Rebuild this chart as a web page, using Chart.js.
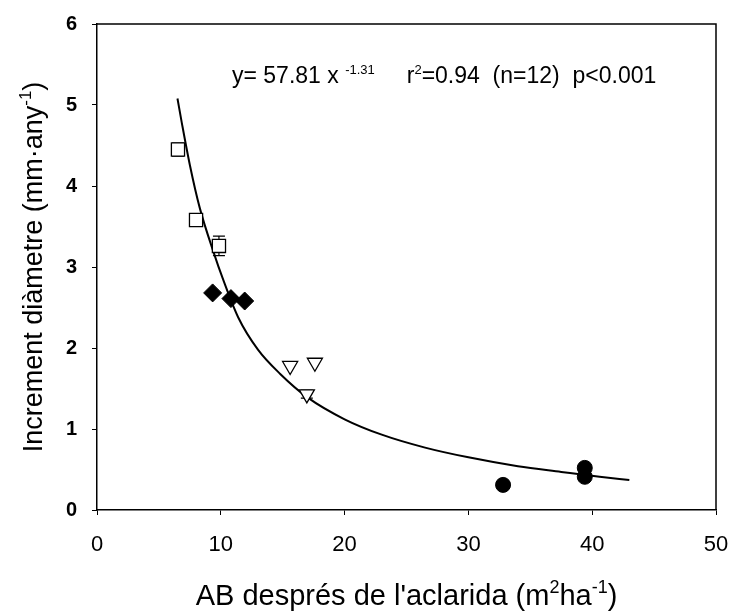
<!DOCTYPE html>
<html>
<head>
<meta charset="utf-8">
<script src="https://cdn.jsdelivr.net/npm/chart.js@4.4.0/dist/chart.umd.min.js"></script>
<style>
  body { margin: 0; background: #fff; }
  #cont { width: 730px; height: 616px; }
</style>
</head>
<body>
<div id="cont"><canvas id="grafica"></canvas></div>
<script>
// valors llegits de la figura
const quadX = [6.54, 8.0, 9.85];
const quadY = [4.45, 3.58, 3.26];
const quadErr = [0.08, 0.05, 0.12];
const rombX = [9.34, 10.82, 11.93];
const rombY = [2.68, 2.61, 2.58];
const triX = [15.6, 17.6, 16.95];
const triY = [1.78, 1.82, 1.43];
const triErr = [0, 0, 0.05];
const cercX = [32.8, 39.4, 39.4];
const cercY = [0.31, 0.52, 0.41];

// corba ajustada (llegida del dibuix)
const ajustX = [6.5, 6.85, 7.5, 8.3, 9.4, 10.2, 11.4, 13, 14.8, 17, 20, 23, 26.5, 30, 34, 37.5, 40.6, 43];
const ajustY = [5.08, 4.78, 4.26, 3.73, 3.19, 2.84, 2.38, 1.98, 1.68, 1.39, 1.12, 0.93, 0.77, 0.65, 0.54, 0.47, 0.41, 0.37];

const ticsX = [0, 10, 20, 30, 40, 50];
const ticsY = [0, 1, 2, 3, 4, 5, 6];

const FONT = "'Liberation Sans', Arial, sans-serif";

function punts(xs, ys) {
    return xs.map((x, i) => ({ x: x, y: ys[i] }));
}

// escriu un text amb trossos en superindex
function textSup(ctx, parts, x, y, mida, align, fsup) {
    fsup = fsup || 0.62;
    let total = 0;
    parts.forEach(p => {
        ctx.font = (p.sup ? Math.round(mida * fsup) : mida) + 'px ' + FONT;
        p.w = ctx.measureText(p.t).width;
        total += p.w;
    });
    let cx = align === 'center' ? x - total / 2 : x;
    parts.forEach(p => {
        ctx.font = (p.sup ? Math.round(mida * fsup) : mida) + 'px ' + FONT;
        ctx.fillText(p.t, cx, p.sup ? y - mida * 0.4 : y);
        cx += p.w;
    });
}

const barresError = {
    id: 'barresError',
    beforeDatasetsDraw(chart) {
        const ctx = chart.ctx;
        const sx = chart.scales.x, sy = chart.scales.y;
        ctx.save();
        ctx.strokeStyle = '#000';
        ctx.lineWidth = 1.2;
        chart.data.datasets.forEach(ds => {
            if (!ds.errors) return;
            ds.data.forEach((p, i) => {
                const e = ds.errors[i];
                if (!e) return;
                const px = sx.getPixelForValue(p.x);
                const y1 = sy.getPixelForValue(p.y + e);
                const y2 = sy.getPixelForValue(p.y - e);
                ctx.beginPath();
                ctx.moveTo(px, y1); ctx.lineTo(px, y2);
                ctx.moveTo(px - 6, y1); ctx.lineTo(px + 6, y1);
                ctx.moveTo(px - 6, y2); ctx.lineTo(px + 6, y2);
                ctx.stroke();
            });
        });
        ctx.restore();
    }
};

const marcITextos = {
    id: 'marcITextos',
    afterDraw(chart) {
        const ctx = chart.ctx;
        const a = chart.chartArea;
        ctx.save();
        // marc superior i dret
        ctx.strokeStyle = '#000';
        ctx.lineWidth = 1.5;
        ctx.beginPath();
        ctx.moveTo(a.left, a.top); ctx.lineTo(a.right, a.top); ctx.lineTo(a.right, a.bottom);
        ctx.stroke();

        ctx.fillStyle = '#000';
        ctx.textBaseline = 'alphabetic';
        ctx.textAlign = 'left';
        // equacio
        textSup(ctx, [
            { t: 'y= 57.81 x ' }, { t: '-1.31', sup: true },
            { t: '     r' }, { t: '2', sup: true },
            { t: '=0.94  (n=12)  p<0.001' }
        ], 232, 83, 23, 'left', 0.58);

        // titol eix x
        textSup(ctx, [
            { t: "AB després de l'aclarida (m" }, { t: '2', sup: true },
            { t: 'ha' }, { t: '-1', sup: true }, { t: ')' }
        ], (a.left + a.right) / 2, 605, 29, 'center');

        // titol eix y
        ctx.translate(42, (a.top + a.bottom) / 2);
        ctx.rotate(-Math.PI / 2);
        textSup(ctx, [
            { t: 'Increment diàmetre (mm·any' }, { t: '-1', sup: true }, { t: ')' }
        ], 0, 0, 27, 'center');
        ctx.restore();
    }
};

const graph = document.getElementById('grafica');
const Grafico = new Chart(graph, {
    type: 'scatter',
    data: {
        datasets: [
            {
                label: 'ajust',
                data: punts(ajustX, ajustY),
                showLine: true,
                borderColor: '#000',
                borderWidth: 2,
                pointRadius: 0,
                cubicInterpolationMode: 'monotone',
                order: 5
            },
            {
                label: 'quadrats',
                data: punts(quadX, quadY),
                errors: quadErr,
                pointStyle: 'rect',
                pointRadius: 9.3,
                backgroundColor: '#fff',
                borderColor: '#000',
                borderWidth: 1.3,
                order: 1
            },
            {
                label: 'rombes',
                data: punts(rombX, rombY),
                pointStyle: 'rectRot',
                pointRadius: 9,
                backgroundColor: '#000',
                borderColor: '#000',
                borderWidth: 1,
                order: 1
            },
            {
                label: 'triangles',
                data: punts(triX, triY),
                errors: triErr,
                pointStyle: 'triangle',
                rotation: 180,
                pointRadius: 8.7,
                backgroundColor: '#fff',
                borderColor: '#000',
                borderWidth: 1.3,
                order: 1
            },
            {
                label: 'cercles',
                data: punts(cercX, cercY),
                pointStyle: 'circle',
                pointRadius: 7.5,
                backgroundColor: '#000',
                borderColor: '#000',
                borderWidth: 1,
                order: 1
            }
        ]
    },
    options: {
        responsive: true,
        maintainAspectRatio: false,
        animation: false,
        devicePixelRatio: 1,
        layout: { padding: { top: 24, right: 14, left: 0, bottom: 0 } },
        plugins: {
            legend: { display: false },
            tooltip: { enabled: false }
        },
        scales: {
            x: {
                type: 'linear',
                min: ticsX[0],
                max: ticsX[ticsX.length - 1],
                afterBuildTicks: s => { s.ticks = ticsX.map(v => ({ value: v })); },
                afterFit: s => { s.height = 106; s.paddingLeft = 0; s.paddingRight = 0; },
                border: { color: '#000', width: 1.5 },
                grid: { drawOnChartArea: false, tickLength: 5, color: '#000' },
                ticks: { color: '#000', padding: 17, font: { family: FONT, size: 22 } }
            },
            y: {
                type: 'linear',
                min: ticsY[0],
                max: ticsY[ticsY.length - 1],
                afterBuildTicks: s => { s.ticks = ticsY.map(v => ({ value: v })); },
                afterFit: s => { s.width = 97; s.paddingTop = 0; s.paddingBottom = 0; },
                border: { color: '#000', width: 1.5 },
                grid: { drawOnChartArea: false, tickLength: 5, color: '#000' },
                ticks: { color: '#000', padding: 15, font: { family: FONT, size: 20, weight: 'bold' } }
            }
        }
    },
    plugins: [barresError, marcITextos]
});
</script>
</body>
</html>
